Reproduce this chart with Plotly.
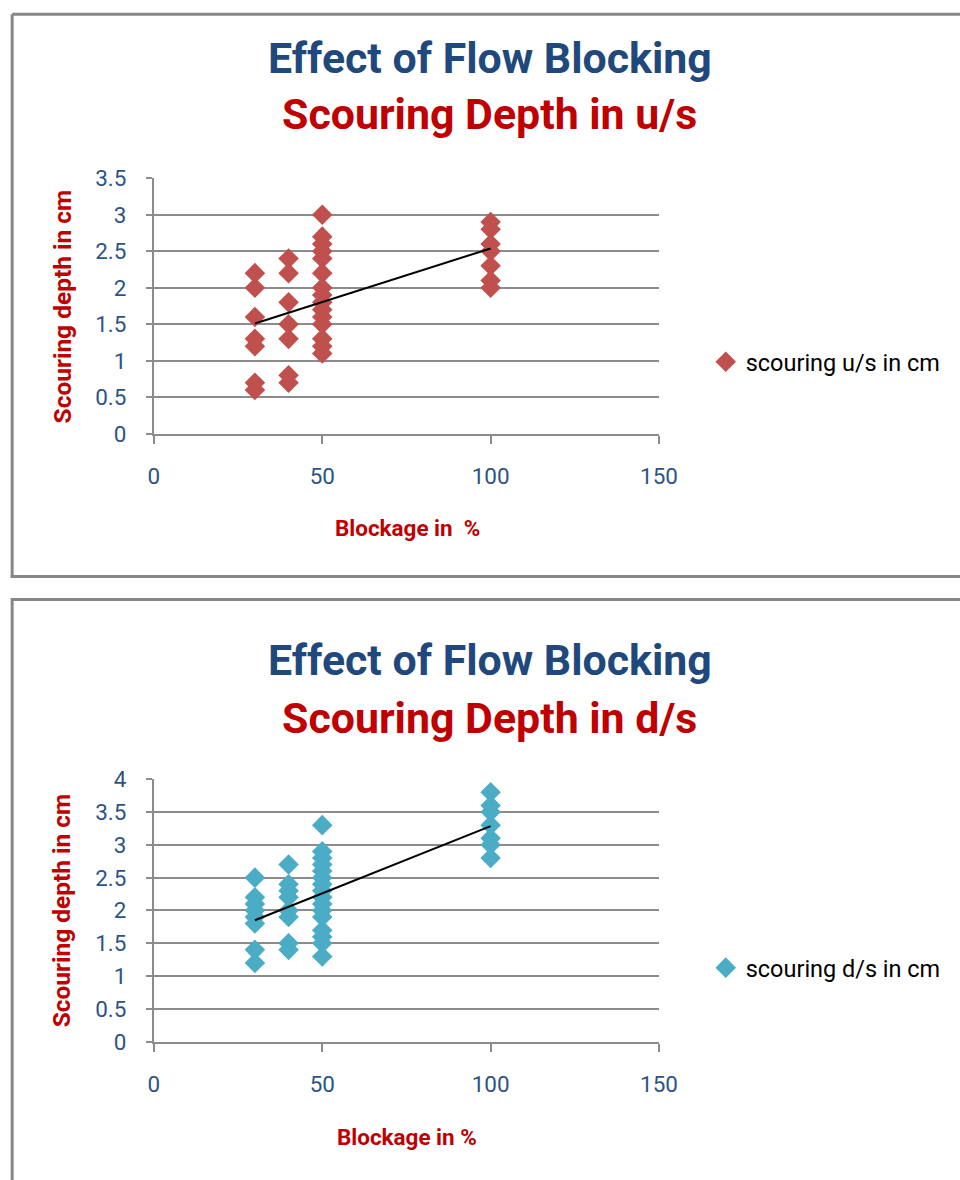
import numpy as np
import plotly.graph_objects as go

# ---------------- data ----------------
us_x = [30]*7 + [40]*7 + [50]*15 + [100]*7
us_y = [2.2, 2.0, 1.6, 1.3, 1.2, 0.7, 0.6,
        2.4, 2.2, 1.8, 1.5, 1.3, 0.8, 0.7,
        3.0, 2.7, 2.6, 2.5, 2.4, 2.2, 2.0, 1.9, 1.8, 1.7, 1.6, 1.5, 1.3, 1.2, 1.1,
        2.9, 2.8, 2.6, 2.5, 2.3, 2.1, 2.0]

ds_x = [30]*8 + [40]*8 + [50]*16 + [100]*7
ds_y = [2.5, 2.2, 2.1, 2.0, 1.9, 1.8, 1.4, 1.2,
        2.7, 2.4, 2.3, 2.2, 2.0, 1.9, 1.5, 1.4,
        3.3, 2.9, 2.8, 2.7, 2.6, 2.5, 2.4, 2.3, 2.2, 2.1, 2.0, 1.9, 1.7, 1.6, 1.5, 1.3,
        3.8, 3.6, 3.5, 3.3, 3.1, 3.0, 2.8]

x_ticks = [0, 50, 100, 150]
us_yticks = [0, 0.5, 1, 1.5, 2, 2.5, 3, 3.5]
ds_yticks = [0, 0.5, 1, 1.5, 2, 2.5, 3, 3.5, 4]

FONT = "Roboto, Liberation Sans, sans-serif"
BLUE = "#1F497D"
RED = "#C00000"
TICKC = "#2B5486"
GRID = "#8C8C8C"
W, H = 980, 1200   # figure size (slightly larger so borders reach the picture edge)

# the photographed page appears slightly scaled / shifted; map target pixels to figure pixels
S, OX, OY = 0.98, 3.3, 11.5
def fx(x):  # target pixel x -> paper fraction
    return (x - OX) / S / W
def fy(y):  # target pixel y -> paper fraction (from bottom)
    return 1 - (y - OY) / S / H
def fs(v):  # target pixel size -> figure size
    return v / S

def trend(x, y):
    m, b = np.polyfit(x, y, 1)
    xs = [min(x), max(x)]
    return xs, [m * v + b for v in xs]

fig = go.Figure()

fig.add_trace(go.Scatter(x=us_x, y=us_y, mode="markers", name="scouring u/s in cm",
                         marker=dict(symbol="diamond", size=fs(15.5), color="#C0504D", line=dict(width=0)),
                         xaxis="x", yaxis="y", legend="legend"))
tx, ty = trend(us_x, us_y)
fig.add_trace(go.Scatter(x=tx, y=ty, mode="lines", line=dict(color="black", width=2),
                         showlegend=False, xaxis="x", yaxis="y", hoverinfo="skip"))

fig.add_trace(go.Scatter(x=ds_x, y=ds_y, mode="markers", name="scouring d/s in cm",
                         marker=dict(symbol="diamond", size=fs(15.5), color="#4BACC6", line=dict(width=0)),
                         xaxis="x2", yaxis="y2", legend="legend2"))
tx2, ty2 = trend(ds_x, ds_y)
fig.add_trace(go.Scatter(x=tx2, y=ty2, mode="lines", line=dict(color="black", width=2),
                         showlegend=False, xaxis="x2", yaxis="y2", hoverinfo="skip"))

xdom = [fx(152), fx(660)]
common_x = dict(range=[0, 150], tickvals=x_ticks, showgrid=False, zeroline=False,
                showline=True, linecolor=GRID, linewidth=2, ticks="outside", ticklen=8,
                tickcolor=GRID, tickwidth=2, ticklabelstandoff=13,
                tickfont=dict(family=FONT, size=fs(22), color=TICKC), domain=xdom)
common_y = dict(showgrid=True, gridcolor=GRID, gridwidth=1.5, zeroline=False,
                showline=True, linecolor=GRID, linewidth=2, ticks="outside", ticklen=6,
                tickcolor=GRID, tickwidth=2, ticklabelstandoff=15,
                tickfont=dict(family=FONT, size=fs(22), color=TICKC))

fig.update_layout(
    width=W, height=H, margin=dict(l=0, r=0, t=0, b=0),
    paper_bgcolor="white", plot_bgcolor="white",
    xaxis=dict(common_x, anchor="y"),
    yaxis=dict(common_y, range=[0, 3.5], tickvals=us_yticks, ticktext=[f"{v:g}" for v in us_yticks],
               domain=[fy(433), fy(177)], anchor="x"),
    xaxis2=dict(common_x, anchor="y2"),
    yaxis2=dict(common_y, range=[0, 4], tickvals=ds_yticks, ticktext=[f"{v:g}" for v in ds_yticks],
                domain=[fy(1042), fy(779)], anchor="x2"),
    legend=dict(x=fx(707), y=fy(361), xanchor="left", yanchor="middle", itemwidth=30,
                font=dict(family=FONT, size=fs(23), color="black"), bgcolor="rgba(0,0,0,0)"),
    legend2=dict(x=fx(707), y=fy(968), xanchor="left", yanchor="middle", itemwidth=30,
                 font=dict(family=FONT, size=fs(23), color="black"), bgcolor="rgba(0,0,0,0)"),
    showlegend=True,
)

# chart borders (right / bottom edges fall outside the picture)
def line(x0, y0, x1, y1):
    fig.add_shape(type="line", xref="paper", yref="paper",
                  x0=x0, x1=x1, y0=y0, y1=y1,
                  line=dict(color="#878787", width=3), layer="below")

top_y = 1 - 1.2 / H
line(fx(9.5), top_y, 1, top_y)                 # top box: top
line(fx(9.5), top_y, fx(9.5), fy(577))          # top box: left
line(fx(8), fy(576), 1, fy(576))                # top box: bottom
line(fx(9.5), fy(599), 1, fy(599))              # bottom box: top
line(fx(9.5), fy(597.5), fx(9.5), 0)            # bottom box: left

def ann(text, x, y, size, color, angle=0):
    fig.add_annotation(text=text, x=fx(x), y=fy(y), xref="paper", yref="paper",
                       showarrow=False, textangle=angle, xanchor="center", yanchor="middle",
                       font=dict(family=FONT, size=fs(size), color=color))

ann("<b>Effect of Flow Blocking</b>", 490, 57, 42, BLUE)
ann("<b>Scouring Depth in u/s</b>", 490, 113, 42, RED)
ann("<b>Blockage in  %</b>", 407, 527, 22, RED)
ann("<b>Scouring depth in cm</b>", 60, 305, 24, RED, -90)

ann("<b>Effect of Flow Blocking</b>", 490, 660, 42, BLUE)
ann("<b>Scouring Depth in d/s</b>", 490, 718, 42, RED)
ann("<b>Blockage in %</b>", 407, 1137, 22, RED)
ann("<b>Scouring depth in cm</b>", 60, 910, 24, RED, -90)

fig.write_html("out.html", config={"displayModeBar": False},
               post_script="document.body.style.margin='0';")
